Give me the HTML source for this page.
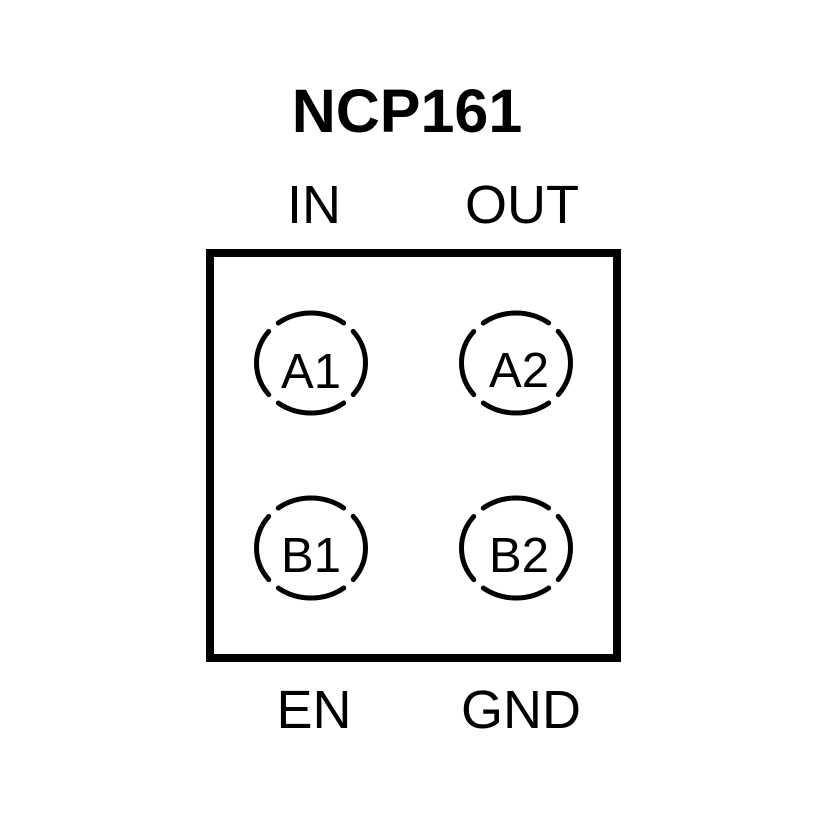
<!DOCTYPE html>
<html>
<head>
<meta charset="utf-8">
<style>
  html, body { margin: 0; padding: 0; background: #fff; }
  svg { display: block; }
  text { font-family: "Liberation Sans", Arial, sans-serif; fill: #000; }
</style>
</head>
<body>
<svg width="827" height="827" viewBox="0 0 827 827" xmlns="http://www.w3.org/2000/svg">
  <rect x="0" y="0" width="827" height="827" fill="#fff"/>
  <!-- Title -->
  <text x="407" y="132" font-size="61" font-weight="bold" text-anchor="middle">NCP161</text>

  <!-- Top labels -->
  <text x="314" y="223" font-size="54" text-anchor="middle">IN</text>
  <text x="522" y="223" font-size="54" text-anchor="middle">OUT</text>

  <!-- Package outline -->
  <rect x="210" y="253" width="407" height="405" fill="none" stroke="#000" stroke-width="8"/>

  <!-- Ball markers -->
  <g fill="none" stroke="#000" stroke-width="5" stroke-linecap="round">
    <ellipse cx="311" cy="363" rx="54.5" ry="50" pathLength="360" stroke-dasharray="76 14" stroke-dashoffset="38"/>
    <ellipse cx="516" cy="363" rx="54.5" ry="50" pathLength="360" stroke-dasharray="76 14" stroke-dashoffset="38"/>
    <ellipse cx="311" cy="548" rx="54.5" ry="50" pathLength="360" stroke-dasharray="76 14" stroke-dashoffset="38"/>
    <ellipse cx="516" cy="548" rx="54.5" ry="50" pathLength="360" stroke-dasharray="76 14" stroke-dashoffset="38"/>
  </g>

  <text x="311" y="388" font-size="49" text-anchor="middle">A1</text>
  <text x="519" y="387" font-size="49" text-anchor="middle">A2</text>
  <text x="311" y="572" font-size="49" text-anchor="middle">B1</text>
  <text x="519" y="572" font-size="49" text-anchor="middle">B2</text>

  <!-- Bottom labels -->
  <text x="314" y="728" font-size="54" text-anchor="middle">EN</text>
  <text x="521" y="728" font-size="54" text-anchor="middle">GND</text>
</svg>
</body>
</html>
